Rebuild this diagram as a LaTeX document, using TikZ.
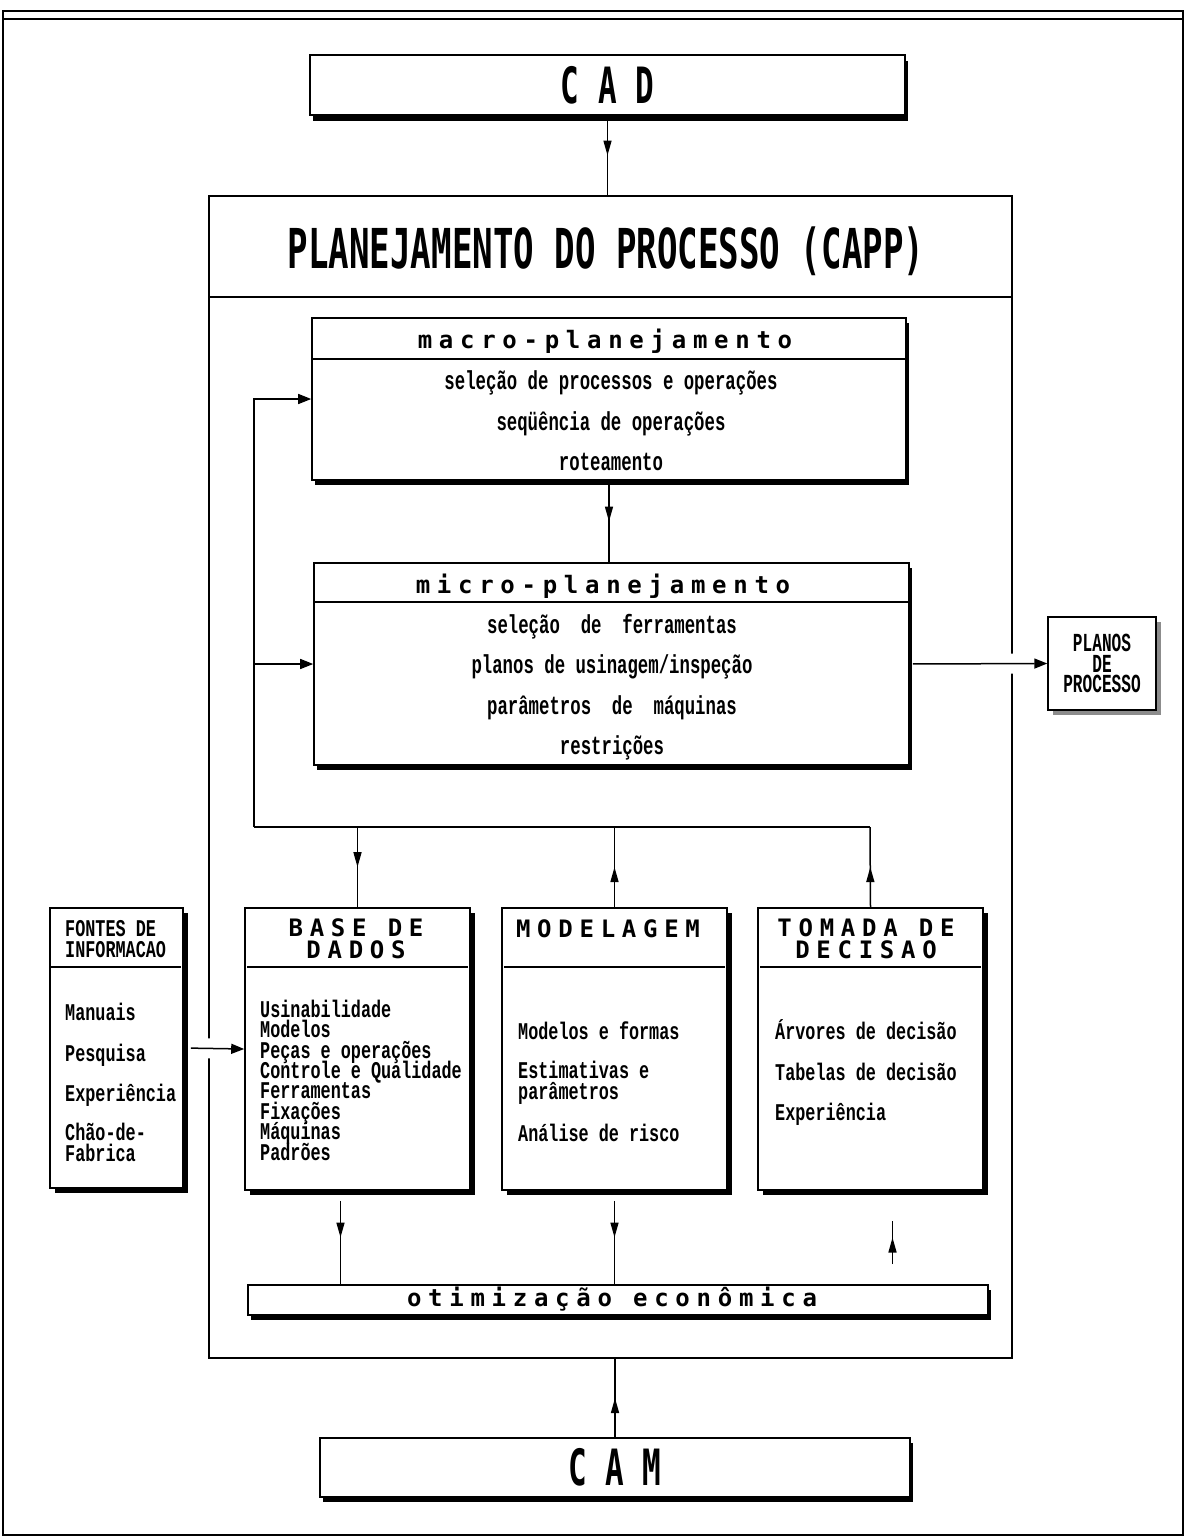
\documentclass[tikz,border=0pt]{standalone}
\usepackage{fontspec}
\usetikzlibrary{arrows.meta,decorations.markings,shadows,calc}
\newfontfamily\titlefont{DejaVu Sans Mono}[FakeStretch=0.62]
\newfontfamily\bodyfont{Liberation Mono}[FakeStretch=0.667]
\newfontfamily\bodyfontn{Liberation Mono}[FakeStretch=0.7]
\newfontfamily\plansfont{Liberation Mono}[FakeStretch=0.62]
\newfontfamily\headfont{DejaVu Sans Mono}[LetterSpace=28]
\newcommand\tightlines{\lineskiplimit-50pt\relax}
\begin{document}
\begin{tikzpicture}[x=1pt,y=-1pt,
  box/.style={draw, fill=white, line width=1.6pt, inner sep=0pt, rectangle},
  shadowed/.style 2 args={drop shadow={shadow xshift=#1, shadow yshift=#2, fill=black, opacity=1}},
  sepline/.style={line width=1.6pt},
  conn/.style={line width=1.5pt},
  midarrow/.style={conn, postaction={decorate}, decoration={markings,
      mark=at position 0.5 with {\arrow{Triangle[length=15pt,width=8pt]}}}},
  endarrow/.style={conn, -{Triangle[length=13pt,width=10pt]}},
  gapline/.style 2 args={preaction={draw=white, line width=20pt, -, shorten <=#1, shorten >=#2}},
  bigtxt/.style={font=\titlefont\bfseries\fontsize{50}{50}\selectfont},
  titletxt/.style={font=\titlefont\bfseries\fontsize{55}{60}\selectfont, inner sep=0pt, anchor=base},
  hdtxt/.style={font=\headfont\bfseries\fontsize{24}{24}\selectfont, inner sep=0pt, anchor=mid, yshift=-6pt},
  hdcaps/.style={font=\headfont\bfseries\fontsize{24}{22}\selectfont\tightlines,
      inner sep=0pt, anchor=base, align=center},
  bdtxt/.style={font=\bodyfont\bfseries\fontsize{26}{26}\selectfont, inner sep=0pt, anchor=mid, yshift=-6pt},
  lowtxt/.style={font=\bodyfontn\bfseries\fontsize{24}{24}\selectfont, inner sep=0pt, anchor=mid west, yshift=-6pt},
  % multi-line blocks: the base anchor sits on the baseline of the last line
  lowgroup/.style={font=\bodyfontn\bfseries\fontsize{24}{20.4}\selectfont\tightlines,
      inner sep=0pt, anchor=base west, align=left},
  planstxt/.style={font=\plansfont\bfseries\fontsize{26}{20.5}\selectfont\tightlines, align=center},
]
\useasboundingbox (0,0) rectangle (1188,1539);

% page frame
\draw[line width=1.4pt] (3,11) rectangle (1183,1535);
\draw[line width=2.4pt] (3,19) -- (1183,19);

% CAD
\node[box, minimum width=595pt, minimum height=60pt, shadowed={3pt}{-6pt}, bigtxt] (cad) at (607.5,85) {C A D};

% process planning frame
\node[box, minimum width=803pt, minimum height=1162pt] (capp) at (610.5,777) {};
\draw[sepline] ([yshift=-102pt]capp.north west) -- ([yshift=-102pt]capp.north east);
\node[titletxt] (capptitle) at (606,268) {PLANEJAMENTO DO PROCESSO (CAPP)};

% macro planning
\node[box, minimum width=594pt, minimum height=162pt, shadowed={3pt}{-5pt}] (macro) at (609,399) {};
\draw[sepline] ([yshift=-42pt]macro.north west) -- ([yshift=-42pt]macro.north east);
\node[hdtxt] (macroh) at (605,340) {macro-planejamento};
\node[bdtxt] (macro1) at (611,381) {seleção de processos e operações};
\node[bdtxt] (macro2) at (611,422) {seqüência de operações};
\node[bdtxt] (macro3) at (611,462) {roteamento};

% micro planning
\node[box, minimum width=595pt, minimum height=202pt, shadowed={3pt}{-5pt}] (micro) at (611.5,664) {};
\draw[sepline] ([yshift=-40pt]micro.north west) -- ([yshift=-40pt]micro.north east);
\node[hdtxt] (microh) at (603,585) {micro-planejamento};
\node[bdtxt] (micro1) at (612,625) {seleção\ \ de\ \ ferramentas};
\node[bdtxt] (micro2) at (612,665) {planos de usinagem/inspeção};
\node[bdtxt] (micro3) at (612,706) {parâmetros\ \ de\ \ máquinas};
\node[bdtxt] (micro4) at (612,746) {restrições};

% process plans
\node[box, line width=1.4pt, minimum width=108pt, minimum height=93pt, planstxt,
      drop shadow={shadow xshift=5pt, shadow yshift=-5pt, fill=black!45, opacity=1}] (planos) at (1102,663.5) {PLANOS\\DE\\PROCESSO};

% information sources
\node[box, minimum width=133pt, minimum height=280pt, shadowed={5pt}{-5pt}] (fontes) at (116.5,1048) {};
\draw[sepline] ([yshift=-60pt]fontes.north west) -- ([xshift=-3pt,yshift=-60pt]fontes.north east);
\node[lowgroup] (fontesh) at (65,957) {FONTES DE\\INFORMACAO};
\node[lowtxt] (fontes1) at (65,1012) {Manuais};
\node[lowtxt] (fontes2) at (65,1053) {Pesquisa};
\node[lowtxt] (fontes3) at (65,1093) {Experiência};
\node[lowgroup] (fontes4) at (65,1161) {Chão-de-\\Fabrica};

% database
\node[box, minimum width=225pt, minimum height=282pt, shadowed={5pt}{-5pt}] (base) at (357.5,1049) {};
\draw[sepline] ([xshift=3pt,yshift=-60pt]base.north west) -- ([xshift=-3pt,yshift=-60pt]base.north east);
\node[hdcaps] (baseh) at (356,958) {BASE DE\\DADOS};
\node[lowgroup] (baselist) at (260,1160) {Usinabilidade\\Modelos\\Peças e operações\\Controle e Qualidade\\%
  Ferramentas\\Fixações\\Máquinas\\Padrões};

% modelling
\node[box, minimum width=225pt, minimum height=282pt, shadowed={5pt}{-5pt}] (model) at (614.5,1049) {};
\draw[sepline] ([xshift=3pt,yshift=-60pt]model.north west) -- ([xshift=-3pt,yshift=-60pt]model.north east);
\node[hdcaps] (modelh) at (608,937) {MODELAGEM};
\node[lowtxt] (model1) at (518,1031) {Modelos e formas};
\node[lowgroup] (model2) at (518,1099) {Estimativas e\\parâmetros};
\node[lowtxt] (model4) at (518,1133) {Análise de risco};

% decision making
\node[box, minimum width=225pt, minimum height=282pt, shadowed={5pt}{-5pt}] (tomada) at (870.5,1049) {};
\draw[sepline] ([xshift=3pt,yshift=-60pt]tomada.north west) -- ([xshift=-3pt,yshift=-60pt]tomada.north east);
\node[hdcaps] (tomadah) at (866,958) {TOMADA DE\\DECISAO};
\node[lowtxt] (tomada1) at (775,1031) {Árvores de decisão};
\node[lowtxt] (tomada2) at (775,1072) {Tabelas de decisão};
\node[lowtxt] (tomada3) at (775,1112) {Experiência};

% economic optimisation
\node[box, minimum width=740pt, minimum height=30pt, shadowed={3pt}{-5pt}] (otim) at (618,1300) {};
\node[hdtxt] (otimt) at (612,1298) {otimização econômica};

% CAM
\node[box, minimum width=590pt, minimum height=59pt, shadowed={3pt}{-5pt}, bigtxt] (cam) at (615,1467.5) {C A M};

% connectors
\draw[midarrow] (cad.south) -- (cad.south |- capp.north);
\draw[midarrow] (macro.south) -- (macro.south |- micro.north);

\coordinate (fbL) at (254,827);
\coordinate (fbR) at (870,827);
\draw[conn] (fbL) -- (fbR);
\draw[endarrow] (fbL) |- (macro.west);
\draw[endarrow] (fbL |- micro.west) -- (micro.west);
\draw[midarrow] (base.north |- fbL) -- (base.north);
\draw[midarrow] (model.north) -- (model.north |- fbL);
\draw[midarrow] (tomada.north) -- (fbR);

\draw[endarrow, gapline={12pt}{16pt}, shorten <=7pt] (fontes.east) -- (base.west);
\draw[endarrow, gapline={20pt}{20pt}, shorten <=3pt] (micro.east) -- (planos.west);

\draw[midarrow, shorten <=10pt] ([xshift=-17pt]base.south) -- ([xshift=-17pt]base.south |- otim.north);
\draw[midarrow, shorten <=10pt] (model.south) -- (model.south |- otim.north);
\draw[midarrow, shorten <=20pt, shorten >=30pt] ([xshift=22pt]tomada.south |- otim.north) -- ([xshift=22pt]tomada.south);
\draw[midarrow] (cam.north) -- (cam.north |- capp.south);
\end{tikzpicture}
\end{document}
